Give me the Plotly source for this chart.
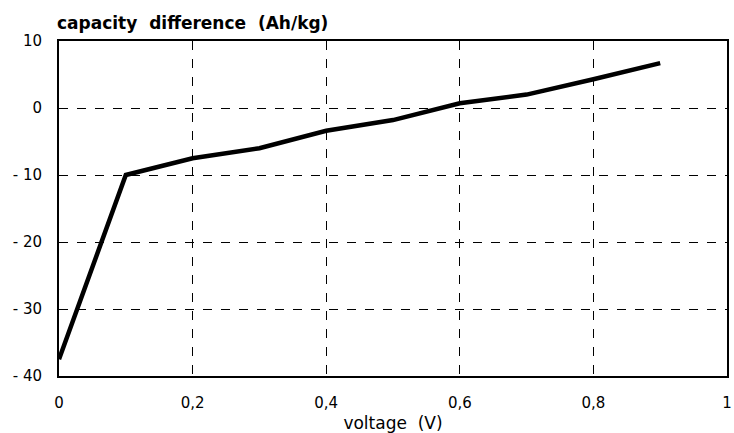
import plotly.graph_objects as go

voltage = [0.0, 0.1, 0.2, 0.3, 0.4, 0.5, 0.6, 0.7, 0.8, 0.9]
capacity_diff = [-37.5, -10.0, -7.5, -6.0, -3.4, -1.8, 0.7, 2.0, 4.3, 6.7]

x_ticks = [0, 0.2, 0.4, 0.6, 0.8, 1]
x_ticklabels = ["0", "0,2", "0,4", "0,6", "0,8", "1"]
y_ticks = [-40, -30, -20, -10, 0, 10]
y_ticklabels = ["- 40", "- 30", "- 20", "- 10", "0", "10"]

font_family = "DejaVu Sans"

fig = go.Figure()
fig.add_trace(go.Scatter(
    x=voltage, y=capacity_diff, mode="lines",
    line=dict(color="black", width=4.5),
    showlegend=False,
))

fig.update_layout(
    width=734, height=433,
    margin=dict(l=59, r=2, t=41, b=57),
    paper_bgcolor="white", plot_bgcolor="white",
    font=dict(family=font_family, size=15, color="black"),
    xaxis=dict(
        range=[0, 1], tickvals=x_ticks, ticktext=x_ticklabels,
        showgrid=True, gridcolor="black", griddash="dash", gridwidth=1.2,
        showline=True, linecolor="black", linewidth=2, mirror=True,
        ticks="", ticklabelstandoff=12, zeroline=False,
        ticklabeloverflow="allow",
        tickfont=dict(size=15),
        title=dict(text="voltage  (V)", standoff=6, font=dict(size=17)),
    ),
    yaxis=dict(
        range=[-40, 10], tickvals=y_ticks, ticktext=y_ticklabels,
        showgrid=True, gridcolor="black", griddash="dash", gridwidth=1.2,
        showline=True, linecolor="black", linewidth=2, mirror=True,
        ticks="", ticklabelstandoff=12, zeroline=False,
        tickfont=dict(size=15),
    ),
    annotations=[dict(
        text="<b>capacity  difference  (Ah/kg)</b>",
        xref="paper", yref="paper", x=0, y=1, xshift=-4, yshift=6,
        xanchor="left", yanchor="bottom", showarrow=False,
        font=dict(family=font_family, size=17, color="black"),
    )],
)

fig.write_html("out.html")
